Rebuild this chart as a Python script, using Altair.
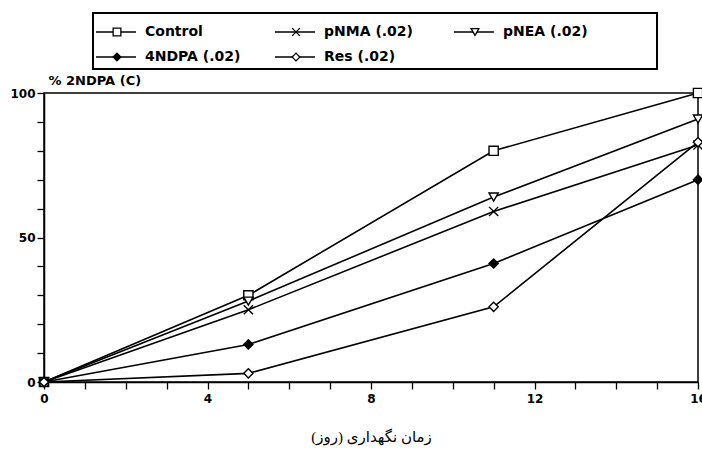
import altair as alt
import pandas as pd

# ---- data ----
days = [0, 5, 11, 16]
series_names = ["Control", "pNMA (.02)", "pNEA (.02)", "4NDPA (.02)", "Res (.02)"]
control = [0, 30, 80, 100]
pnma = [0, 25, 59, 82]
pnea = [0, 28, 64, 91]
ndpa4 = [0, 13, 41, 70]
res = [0, 3, 26, 83]

legend_col = [0, 1, 2, 0, 1]
legend_row = [0, 0, 0, 1, 1]

x_ticks = list(range(0, 17))
y_ticks = list(range(0, 101, 10))

x_title = "\u200fزمان نگهداری (روز)\u200f"
y_title = "% 2NDPA (C)"

# ---- styling maps ----
shapes = ["square", "M-1,-1L1,1M-1,1L1,-1", "triangle-down", "diamond", "diamond"]
fills = ["white", "white", "white", "black", "white"]

values = [control, pnma, pnea, ndpa4, res]
rows = []
for name, vals in zip(series_names, values):
    for d, v in zip(days, vals):
        rows.append({"series": name, "day": d, "value": v})
df = pd.DataFrame(rows)

legend_df = pd.DataFrame({"series": series_names, "col": legend_col, "row": legend_row})
box_df = pd.DataFrame({"box": [0]})

shape_enc = alt.Shape("series:N", scale=alt.Scale(domain=series_names, range=shapes), legend=None)
fill_enc = alt.Fill("series:N", scale=alt.Scale(domain=series_names, range=fills), legend=None)

x_axis = alt.Axis(
    values=x_ticks,
    tickCount=17,
    labelExpr="datum.value % 4 == 0 ? datum.label : ''",
    labelOverlap=False,
    labelFlush=False,
    title=x_title,
    titleFont="Liberation Serif, DejaVu Sans",
    titleFontSize=15,
    titleFontWeight="normal",
    titlePadding=25,
    tickSize=7,
    labelPadding=4,
)
y_axis = alt.Axis(
    values=y_ticks,
    tickCount=11,
    labelExpr="datum.value % 50 == 0 ? datum.label : ''",
    labelOverlap=False,
    labelFlush=False,
    title=y_title,
    titleAngle=0,
    titleX=4,
    titleY=-13,
    titleAlign="left",
    titleBaseline="middle",
    titleFont="DejaVu Sans",
    titleFontSize=13,
    titleFontWeight="bold",
    tickSize=7,
    labelPadding=2,
)

x_enc = alt.X("day:Q", scale=alt.Scale(domain=[0, 16], nice=False, zero=False), axis=x_axis)
y_enc = alt.Y("value:Q", scale=alt.Scale(domain=[0, 100], nice=False), axis=y_axis)

base = alt.Chart(df)
lines = base.mark_line(color="black", strokeWidth=1.6).encode(
    x=x_enc, y=y_enc, detail="series:N"
)
points = base.mark_point(stroke="black", strokeWidth=1.4, opacity=1, size=85).encode(
    x=x_enc, y=y_enc, shape=shape_enc, fill=fill_enc
)

leg_x = alt.X("col:Q", scale=alt.Scale(domain=[0, 1], range=[73, 252], nice=False, zero=False), axis=None)
leg_y = alt.Y("row:Q", scale=alt.Scale(domain=[0, 1], range=[-61, -36], nice=False, zero=False), axis=None)

leg = alt.Chart(legend_df)
leg_rules = leg.mark_rule(color="black", strokeWidth=1.4, xOffset=-21, x2Offset=19).encode(
    x=leg_x, x2="col:Q", y=leg_y
)
leg_points = leg.mark_point(stroke="black", strokeWidth=1.3, opacity=1, size=60).encode(
    x="col:Q", y="row:Q", shape=shape_enc, fill=fill_enc
)
leg_text = leg.mark_text(
    align="left", baseline="middle", dx=28, font="DejaVu Sans", fontSize=14,
    fontWeight="bold", color="black"
).encode(x="col:Q", y="row:Q", text="series:N")

box = alt.Chart(box_df).mark_rect(fillOpacity=0, stroke="black", strokeWidth=2).encode(
    x=alt.value(49), x2=alt.value(613), y=alt.value(-80), y2=alt.value(-24)
)

main = alt.layer(lines, points)
legend_layer = alt.layer(leg_rules, leg_points, leg_text)

chart = (
    alt.layer(box, main, legend_layer)
    .resolve_scale(x="independent", y="independent")
    .properties(
        width=654,
        height=289,
        padding={"left": 44, "top": 93, "right": 4, "bottom": 67},
        autosize=alt.AutoSizeParams(type="none"),
        background="white",
    )
    .configure_view(stroke="black", strokeWidth=1.5)
    .configure_axis(
        domainColor="black",
        domainWidth=1.5,
        tickColor="black",
        tickWidth=1.3,
        labelFont="DejaVu Sans",
        labelFontWeight="bold",
        labelFontSize=12,
        labelColor="black",
        titleColor="black",
        grid=False,
    )
)

chart.save("out.html", embed_options={"renderer": "svg", "actions": False})
